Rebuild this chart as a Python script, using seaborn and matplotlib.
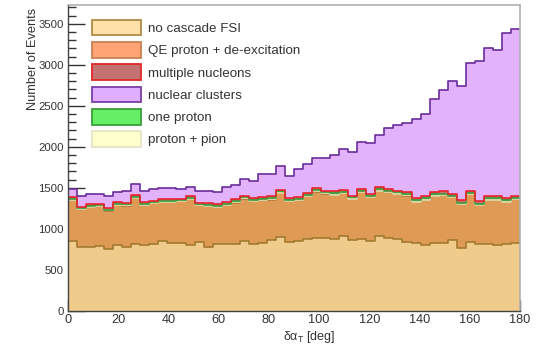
import numpy as np
import pandas as pd
import matplotlib
matplotlib.use("Agg")
import matplotlib.pyplot as plt
from matplotlib.patches import Patch
from matplotlib.ticker import MultipleLocator
import seaborn as sns

# 50 bins of 3.6 deg over 0-180 deg
bin_edges = np.linspace(0, 180, 51)
bin_centers = 0.5 * (bin_edges[:-1] + bin_edges[1:])

no_cascade = [850, 774, 783, 795, 754, 802, 778, 811, 802, 811,
              851, 831, 825, 802, 843, 783, 820, 811, 820, 851,
              820, 831, 863, 904, 835, 851, 880, 892, 892, 880,
              911, 863, 880, 851, 911, 892, 875, 843, 823, 802,
              830, 830, 863, 771, 835, 811, 811, 802, 811, 823]
qe_deexcitation = [500, 463, 487, 480, 468, 485, 507, 565, 491, 499,
                   472, 498, 510, 560, 444, 493, 448, 481, 499, 519,
                   523, 522, 494, 535, 505, 502, 519, 562, 538, 535,
                   521, 503, 565, 536, 554, 553, 552, 561, 508, 551,
                   573, 584, 520, 527, 585, 479, 540, 552, 520, 537]
proton_pion = [4, 3, 3, 2, 3, 4, 3, 3, 2, 3, 3, 4, 3, 3, 2, 3, 3, 3, 4, 3,
               3, 2, 3, 3, 4, 3, 3, 3, 2, 3, 4, 3, 3, 3, 2, 3, 3, 4, 3, 3,
               3, 2, 3, 3, 4, 3, 3, 2, 3, 3]
one_proton = [12, 10, 11, 9, 10, 12, 11, 13, 10, 11, 12, 11, 10, 12, 11, 10, 12, 11, 13, 12,
              11, 12, 13, 14, 12, 13, 14, 15, 13, 14, 15, 14, 15, 14, 16, 15, 14, 15, 16, 17,
              16, 15, 16, 18, 17, 16, 18, 17, 16, 17]
multiple_nucleons = [22, 20, 21, 19, 20, 22, 21, 23, 20, 21, 22, 21, 22, 23, 20, 21, 22, 21, 23, 22,
                     21, 23, 22, 24, 22, 23, 24, 25, 23, 24, 25, 24, 25, 24, 26, 25, 24, 25, 26, 27,
                     26, 25, 26, 28, 27, 26, 28, 27, 26, 27]
nuclear_clusters = [102, 125, 123, 115, 145, 123, 148, 134, 143, 143,
                    140, 135, 118, 116, 148, 150, 143, 189, 181, 202,
                    203, 280, 275, 290, 271, 338, 350, 368, 392, 439,
                    496, 525, 565, 615, 633, 747, 802, 847, 959, 996,
                    1134, 1242, 1371, 1400, 1553, 1706, 1810, 1774, 2014, 2029]

channels = {
    "no cascade FSI": no_cascade,
    "QE proton + de-excitation": qe_deexcitation,
    "proton + pion": proton_pion,
    "one proton": one_proton,
    "multiple nucleons": multiple_nucleons,
    "nuclear clusters": nuclear_clusters,
}
legend_order = ["no cascade FSI", "QE proton + de-excitation", "multiple nucleons",
                "nuclear clusters", "one proton", "proton + pion"]
# seaborn puts the first hue level on top of the stack, so list top -> bottom
stack_order = list(channels.keys())[::-1]

fill_colors = {
    "no cascade FSI": "#F0CC8C",
    "QE proton + de-excitation": "#DF9A55",
    "proton + pion": "#FFFFCC",
    "one proton": "#66DD66",
    "multiple nucleons": "#C87070",
    "nuclear clusters": "#E2B3FA",
}
line_colors = {
    "no cascade FSI": "#A27A30",
    "QE proton + de-excitation": "#B57840",
    "proton + pion": "#E0E0B0",
    "one proton": "#3C9A3C",
    "multiple nucleons": "#E8242C",
    "nuclear clusters": "#6A2C9C",
}
legend_fill = {
    "no cascade FSI": "#FFE0A8",
    "QE proton + de-excitation": "#FFA474",
    "multiple nucleons": "#C47272",
    "nuclear clusters": "#E0AEFF",
    "one proton": "#66EE66",
    "proton + pion": "#FFFFCC",
}
legend_edge = {
    "no cascade FSI": "#B08A44",
    "QE proton + de-excitation": "#C88052",
    "multiple nucleons": "#E02828",
    "nuclear clusters": "#7A3EA8",
    "one proton": "#38A038",
    "proton + pion": "#E4E4C8",
}

df = pd.DataFrame(
    [(c, name, v) for name, vals in channels.items() for c, v in zip(bin_centers, vals)],
    columns=["angle", "channel", "events"],
)

sns.set_theme(style="white")
plt.rcParams["font.family"] = ["Liberation Sans", "DejaVu Sans"]

fig = plt.figure(figsize=(5.43, 3.45), dpi=100)
ax = fig.add_axes([68 / 543, 1 - 311 / 345, 452 / 543, 306 / 345])

edges_list = bin_edges.tolist()
sns.histplot(data=df, x="angle", weights="events", hue="channel", hue_order=stack_order,
             multiple="stack", bins=edges_list, element="step", fill=True, alpha=1,
             linewidth=0, palette=fill_colors, legend=False, ax=ax)
sns.histplot(data=df, x="angle", weights="events", hue="channel", hue_order=stack_order,
             multiple="stack", bins=edges_list, element="step", fill=False,
             linewidth=1.2, palette=line_colors, legend=False, ax=ax)

ax.set_xlim(0, 180)
ax.set_ylim(0, 3728)
ax.xaxis.set_major_locator(MultipleLocator(20))
ax.xaxis.set_minor_locator(MultipleLocator(5))
ax.yaxis.set_major_locator(MultipleLocator(500))
ax.yaxis.set_minor_locator(MultipleLocator(100))
ax.tick_params(axis="x", which="major", direction="in", length=8, width=1,
               color="#333333", labelsize=9.2, labelcolor="#333333", pad=2.5,
               bottom=True, top=False)
ax.tick_params(axis="x", which="minor", direction="in", length=4.5, width=1,
               color="#333333", bottom=True, top=False)
ax.tick_params(axis="y", which="major", direction="in", length=12, width=1,
               color="#333333", labelsize=8.2, labelcolor="#333333", pad=3,
               left=True, right=False)
ax.tick_params(axis="y", which="minor", direction="in", length=5.5, width=1,
               color="#333333", left=True, right=False)

for side in ("top", "right"):
    ax.spines[side].set_color("#B0B0B0")
    ax.spines[side].set_linewidth(1.2)
for side in ("left", "bottom"):
    ax.spines[side].set_color("#444444")
    ax.spines[side].set_linewidth(1.0)

ax.set_ylabel("Number of Events", fontsize=9.2, color="#333333", loc="top")
ax.yaxis.set_label_coords(-0.064, 0.99)
ax.set_xlabel(r"δα$_\mathregular{T}$ [deg]", fontsize=9.0, color="#333333")
ax.xaxis.set_label_coords(0.533, -0.06)

handles = [Patch(facecolor=legend_fill[k], edgecolor=legend_edge[k], linewidth=1.3)
           for k in legend_order]
ax.legend(handles, legend_order, loc="upper left", bbox_to_anchor=(0.0538, 0.952),
          frameon=False, fontsize=9.6, handlelength=3.64, handleheight=1.44,
          handletextpad=0.55, labelspacing=0.49, borderpad=0, borderaxespad=0,
          labelcolor="#333333")

fig.savefig("out.png", dpi=100, facecolor="white")
